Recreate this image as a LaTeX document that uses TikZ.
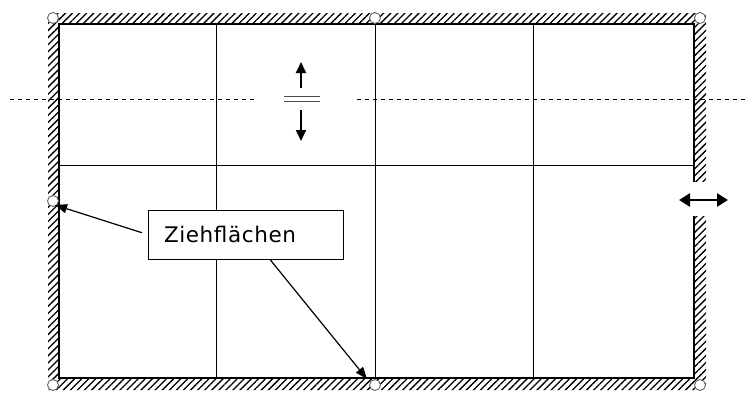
\documentclass[tikz,border=0pt]{standalone}
\usepackage{fontspec}
\setsansfont{DejaVu Sans}
\newfontfamily\calloutfont[LetterSpace=2.8]{DejaVu Sans}
\usetikzlibrary{patterns.meta,arrows.meta}
\tikzset{
  handle/.style={draw=black!60, fill=white, line width=0.9pt},
  hatch/.style={pattern={Lines[angle=45,distance=5pt,line width=1.3pt]}},
  callout/.style={draw, line width=1pt, fill=white, inner xsep=16pt, minimum height=49pt,
                  font=\calloutfont\fontsize{21.5}{24}\selectfont, text width=163pt, align=left},
}
\begin{document}
\begin{tikzpicture}[x=1pt,y=-1pt]
  \useasboundingbox[fill=white] (0,0) rectangle (750,418);
  % hatched frame
  \fill[hatch, even odd rule] (48,13) rectangle (706,390) (59,24) rectangle (694,378);
  \fill[white] (689,182) rectangle (712,216);
  % table grid
  \draw[line width=2.2pt] (694,182) -- (694,24) -- (59,24) -- (59,378) -- (694,378) -- (694,216);
  \foreach \x in {216,375,533}{ \draw[line width=1pt] (\x,24) -- (\x,378);}
  \draw[line width=1pt] (59,165) -- (694,165);
  % dashed guide
  \draw[dashed, dash pattern=on 4pt off 4pt, line width=0.8pt] (10,99) -- (255,99);
  \draw[dashed, dash pattern=on 4pt off 4pt, line width=0.8pt] (357,99) -- (745,99);
  % row resize cursor
  \draw[line width=2pt, -{Triangle[length=11pt,width=10pt]}] (301,88) -- (301,62);
  \draw[line width=2pt, -{Triangle[length=11pt,width=10pt]}] (301,110) -- (301,141);
  \draw[black!70, line width=1.6pt] (284,96.5) -- (320,96.5);
  \draw[black!70, line width=1.6pt] (284,101.5) -- (320,101.5);
  % column resize cursor
  \draw[line width=2.6pt, {Triangle[length=11pt,width=13pt]}-{Triangle[length=11pt,width=13pt]}] (679,200) -- (728,200);
  % handles
  \foreach \p in {(53,18),(375,18),(700,18),(53,201),(53,385),(375,385),(700,385)}{
    \draw[handle] \p circle (5.5pt);}
  % callout
  \node[callout] (lbl) at (245.5,234.5) {Ziehflächen};
  \coordinate (tgtL) at (55,205);
  \coordinate (tgtB) at (367,379);
  \draw[line width=1.2pt, -{Triangle[length=12pt,width=9pt]}, shorten <=6pt] (lbl.west) -- (tgtL);
  \draw[line width=1.2pt, -{Triangle[length=12pt,width=9pt]}] ([xshift=24.5pt]lbl.south) -- (tgtB);
\end{tikzpicture}
\end{document}
